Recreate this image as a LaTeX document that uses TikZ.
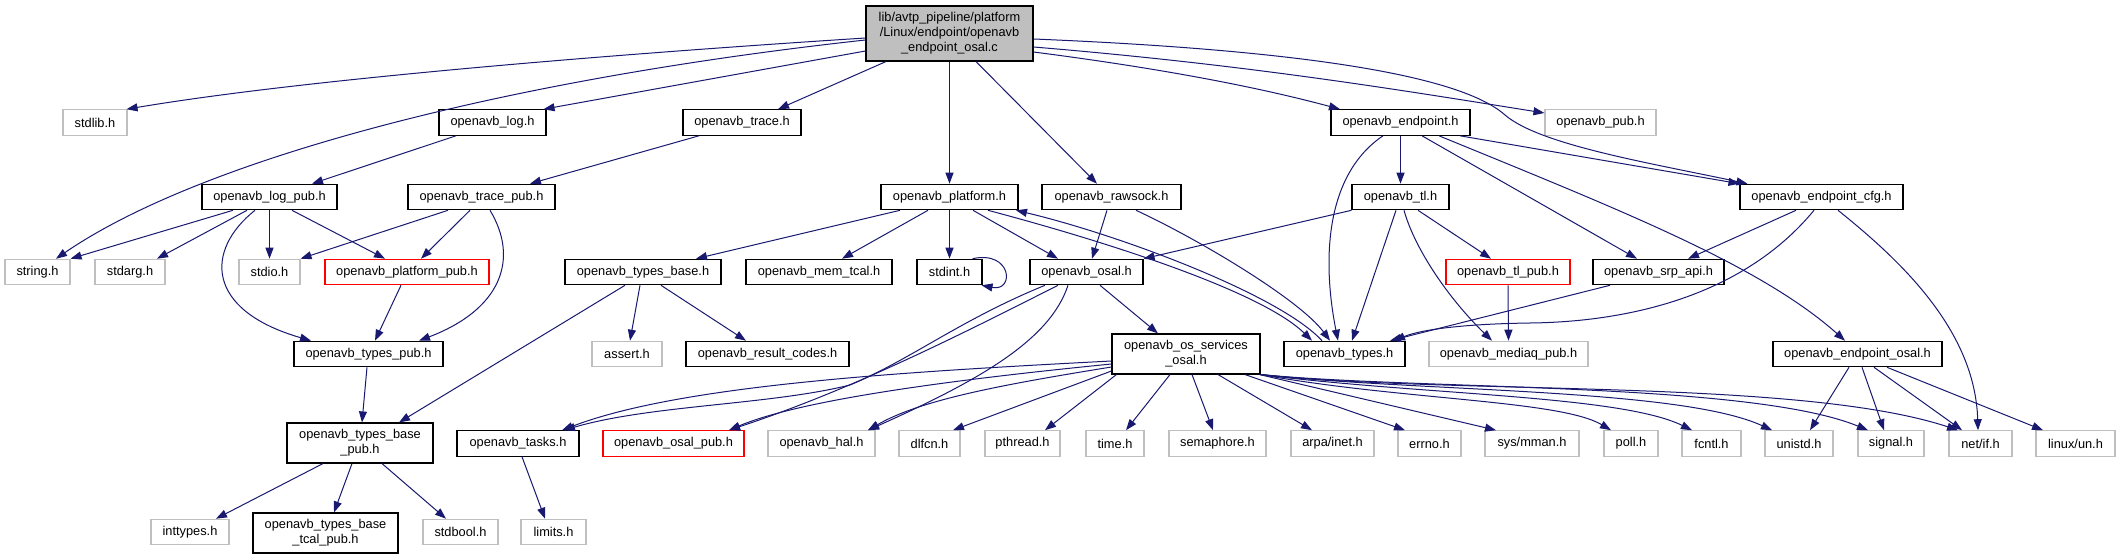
\documentclass[tikz,border=0pt]{standalone}
\usepackage{fontspec}
\setmainfont{Liberation Sans}
\usetikzlibrary{arrows.meta}
\definecolor{edgec}{HTML}{191970}
\definecolor{grayb}{HTML}{BFBFBF}
\begin{document}
\begin{tikzpicture}[x=1pt,y=-1pt,
  font=\fontsize{12.8}{15}\selectfont,
  box/.style={draw, line width=1.1pt, inner sep=0pt, minimum height=25.5pt, align=center, text=black, fill=white},
  blk/.style={box, draw=black},
  sys/.style={box, draw=grayb},
  trunc/.style={box, draw=red},
  e/.style={draw=edgec, line width=1pt, -{Triangle[length=11pt,width=8pt]}}]
\fill[white] (0,0) rectangle (2120,559);
\useasboundingbox (0,0) rectangle (2120,559);
% nodes
\node[blk, fill=grayb, minimum width=167pt, minimum height=55pt] (main) at (949.5,33.5) {lib/avtp\_pipeline/platform\\/Linux/endpoint/openavb\\\_endpoint\_osal.c};
\node[sys, minimum width=64pt] (stdlib) at (95,122.5) {stdlib.h};
\node[blk, minimum width=107pt] (log) at (492.5,122.5) {openavb\_log.h};
\node[blk, minimum width=118pt] (trace) at (742,122.5) {openavb\_trace.h};
\node[blk, minimum width=139pt] (endpoint) at (1400.5,122.5) {openavb\_endpoint.h};
\node[sys, minimum width=111pt] (pub) at (1600.5,122.5) {openavb\_pub.h};
\node[blk, minimum width=135pt] (logpub) at (269.5,197) {openavb\_log\_pub.h};
\node[blk, minimum width=147pt] (tracepub) at (481.5,197) {openavb\_trace\_pub.h};
\node[blk, minimum width=137pt] (platform) at (949.5,197) {openavb\_platform.h};
\node[blk, minimum width=139pt] (rawsock) at (1111.5,197) {openavb\_rawsock.h};
\node[blk, minimum width=97pt] (tl) at (1400.5,197) {openavb\_tl.h};
\node[blk, minimum width=163pt] (cfg) at (1821.5,197) {openavb\_endpoint\_cfg.h};
\node[sys, minimum width=65pt] (string) at (37.5,272) {string.h};
\node[sys, minimum width=70pt] (stdarg) at (130,272) {stdarg.h};
\node[sys, minimum width=61pt] (stdio) at (269.5,272) {stdio.h};
\node[trunc, minimum width=164pt] (platpub) at (407,272) {openavb\_platform\_pub.h};
\node[blk, minimum width=156pt] (typesbase) at (643,272) {openavb\_types\_base.h};
\node[blk, minimum width=146pt] (memtcal) at (819,272) {openavb\_mem\_tcal.h};
\node[blk, minimum width=65pt] (stdint) at (949.5,272) {stdint.h};
\node[blk, minimum width=113pt] (osal) at (1086.5,272) {openavb\_osal.h};
\node[trunc, minimum width=124pt] (tlpub) at (1508,272) {openavb\_tl\_pub.h};
\node[blk, minimum width=131pt] (srp) at (1658.5,272) {openavb\_srp\_api.h};
\node[blk, minimum width=149pt] (typespub) at (368.5,354) {openavb\_types\_pub.h};
\node[sys, minimum width=70pt] (assert) at (627,354) {assert.h};
\node[blk, minimum width=163pt] (result) at (767.5,354) {openavb\_result\_codes.h};
\node[blk, minimum width=148pt, minimum height=40pt] (ossvc) at (1186,354) {openavb\_os\_services\\\_osal.h};
\node[blk, minimum width=121pt] (types) at (1344.5,354) {openavb\_types.h};
\node[sys, minimum width=159pt] (mediaq) at (1508.5,354) {openavb\_mediaq\_pub.h};
\node[blk, minimum width=169pt] (eposal) at (1857.5,354) {openavb\_endpoint\_osal.h};
\node[blk, minimum width=146pt, minimum height=40pt] (tbpub) at (360,443) {openavb\_types\_base\\\_pub.h};
\node[blk, minimum width=122pt] (tasks) at (518,443.5) {openavb\_tasks.h};
\node[trunc, minimum width=141pt] (osalpub) at (673.5,443.5) {openavb\_osal\_pub.h};
\node[sys, minimum width=107pt] (hal) at (821.5,443.5) {openavb\_hal.h};
\node[sys, minimum width=61pt] (dlfcn) at (929.5,443.5) {dlfcn.h};
\node[sys, minimum width=75pt] (pthread) at (1022.5,443.5) {pthread.h};
\node[sys, minimum width=58pt] (time) at (1115,443.5) {time.h};
\node[sys, minimum width=97pt] (sema) at (1217.5,443.5) {semaphore.h};
\node[sys, minimum width=83pt] (arpa) at (1332.5,443.5) {arpa/inet.h};
\node[sys, minimum width=63pt] (errno) at (1429.5,443.5) {errno.h};
\node[sys, minimum width=94pt] (mman) at (1532,443.5) {sys/mman.h};
\node[sys, minimum width=54pt] (poll) at (1631,443.5) {poll.h};
\node[sys, minimum width=59pt] (fcntl) at (1711.5,443.5) {fcntl.h};
\node[sys, minimum width=68pt] (unistd) at (1799,443.5) {unistd.h};
\node[sys, minimum width=66pt] (signal) at (1891,443.5) {signal.h};
\node[sys, minimum width=63pt] (netif) at (1980.5,443.5) {net/if.h};
\node[sys, minimum width=79pt] (linuxun) at (2075.5,443.5) {linux/un.h};
\node[sys, minimum width=78pt] (inttypes) at (190,532) {inttypes.h};
\node[blk, minimum width=145pt, minimum height=40pt] (tcal) at (325.5,533) {openavb\_types\_base\\\_tcal\_pub.h};
\node[sys, minimum width=75pt] (stdbool) at (460.5,532) {stdbool.h};
\node[sys, minimum width=65pt] (limits) at (553.5,532) {limits.h};
% edges from main
\draw[e] ([yshift=-4.5pt]main.west) .. controls (600,55) and (300,80) .. ([xshift=-1pt]stdlib.north east);
\draw[e] ([yshift=-6.5pt]main.west) .. controls (500,80) and (200,160) .. ([xshift=18.5pt]string.north);
\draw[e] ([yshift=-17.5pt]main.west) -- ([xshift=-3pt]log.north east);
\draw[e] ([xshift=-63.5pt]main.south) -- ([xshift=36pt]trace.north);
\draw[e] (main.south) -- (platform.north);
\draw[e] ([xshift=26.5pt]main.south) -- ([xshift=-14.5pt]rawsock.north);
\draw[e] ([yshift=-18.5pt]main.east) .. controls (1150,67) and (1250,85) .. ([xshift=-60.5pt]endpoint.north);
\draw[e] ([yshift=-13.5pt]main.east) .. controls (1250,65) and (1400,90) .. ([yshift=9.5pt]pub.west);
\draw[e] ([yshift=-5.5pt]main.east) .. controls (1300,50) and (1460,75) .. (1505,115) .. controls (1540,145) and (1650,163) .. ([xshift=8pt]cfg.north west);
% log / trace
\draw[e] ([xshift=-36.5pt]log.south) -- ([xshift=42.5pt]logpub.north);
\draw[e] ([xshift=-43pt]trace.south) -- ([xshift=48.5pt]tracepub.north);
\draw[e] ([xshift=-36.5pt]logpub.south) -- (string.north east);
\draw[e] ([xshift=-22.5pt]logpub.south) -- ([xshift=27pt]stdarg.north);
\draw[e] (logpub.south) -- (stdio.north);
\draw[e] ([xshift=22.5pt]logpub.south) -- ([xshift=-22pt]platpub.north);
\draw[e] ([xshift=-14.5pt]logpub.south) .. controls (205,250) and (205,310) .. ([xshift=-57.5pt]typespub.north);
\draw[e] ([xshift=-33.5pt]tracepub.south) -- (stdio.north east);
\draw[e] ([xshift=-11.5pt]tracepub.south) -- ([xshift=14pt]platpub.north);
\draw[e] ([xshift=8.5pt]tracepub.south) .. controls (520,260) and (500,310) .. ([xshift=50.5pt]typespub.north);
\draw[e] ([xshift=-6pt]platpub.south) -- ([xshift=6.5pt]typespub.north);
\draw[e] ([xshift=-1.5pt]typespub.south) -- ([xshift=2pt]tbpub.north);
\draw[e] ([xshift=-18pt]typesbase.south) -- ([xshift=39pt]tbpub.north);
\draw[e] ([xshift=-3pt]typesbase.south) -- ([xshift=3pt]assert.north);
\draw[e] ([xshift=18pt]typesbase.south) -- ([xshift=-21.5pt]result.north);
\draw[e] ([xshift=-37pt]tbpub.south) -- ([xshift=26pt]inttypes.north);
\draw[e] ([xshift=-8pt]tbpub.south) -- ([xshift=8.5pt]tcal.north);
\draw[e] ([xshift=22pt]tbpub.south) -- ([xshift=-14.5pt]stdbool.north);
\draw[e] ([xshift=4pt]tasks.south) -- ([xshift=-8.5pt]limits.north);
% platform
\draw[e] ([xshift=-49.5pt]platform.south) -- ([xshift=53pt]typesbase.north);
\draw[e] ([xshift=-21.5pt]platform.south) -- ([xshift=23pt]memtcal.north);
\draw[e] (platform.south) -- (stdint.north);
\draw[e] ([xshift=23.5pt]platform.south) -- ([xshift=-28.5pt]osal.north);
\draw[e] ([xshift=38.5pt]platform.south) .. controls (1100,240) and (1260,290) .. ([xshift=-32.5pt]types.north);
\draw[e] ([xshift=-22.5pt]types.north) .. controls (1280,295) and (1120,235) .. ([xshift=66.5pt]platform.south);
\draw[e] ([xshift=-10pt]stdint.north east) .. controls (1012,250) and (1015,292) .. ([xshift=-1pt]stdint.south east);
% rawsock
\draw[e] ([xshift=-4.5pt]rawsock.south) -- ([xshift=5.5pt]osal.north);
\draw[e] ([xshift=24.5pt]rawsock.south) .. controls (1200,240) and (1300,300) .. ([xshift=-14.5pt]types.north);
% endpoint
\draw[e] (endpoint.south) -- (tl.north);
\draw[e] ([xshift=-17.5pt]endpoint.south) .. controls (1325,175) and (1322,260) .. ([xshift=-6.5pt]types.north);
\draw[e] ([xshift=21.5pt]endpoint.south) -- ([xshift=-21.5pt]srp.north);
\draw[e] ([xshift=38.5pt]endpoint.south) .. controls (1620,210) and (1760,265) .. ([xshift=-12.5pt]eposal.north);
\draw[e] ([xshift=59.5pt]endpoint.south) -- (cfg.north west);
% tl
\draw[e] (tl.south west) -- (osal.north east);
\draw[e] ([xshift=-4.5pt]tl.south) -- ([xshift=7.5pt]types.north);
\draw[e] ([xshift=3.5pt]tl.south) .. controls (1415,250) and (1450,300) .. ([xshift=-16.5pt]mediaq.north);
\draw[e] ([xshift=17.5pt]tl.south) -- ([xshift=-17pt]tlpub.north);
\draw[e] (tlpub.south) -- (mediaq.north);
% cfg
\draw[e] ([xshift=-25.5pt]cfg.south) -- ([xshift=29.5pt]srp.north);
\draw[e] ([xshift=-7.5pt]cfg.south) .. controls (1740,300) and (1620,322) .. (1530,323) .. controls (1460,324) and (1420,330) .. ([xshift=49.5pt]types.north);
\draw[e] ([xshift=16.5pt]cfg.south) .. controls (1900,260) and (1975,330) .. ([xshift=-2.5pt]netif.north);
\draw[e] ([xshift=-48.5pt]srp.south) -- ([xshift=45.5pt]types.north);
% osal
\draw[e] ([xshift=13.5pt]osal.south) -- ([xshift=-28pt]ossvc.north);
\draw[e] ([xshift=-41.5pt]osal.south) .. controls (960,320) and (910,360) .. (850,385) .. controls (770,405) and (650,405) .. ([xshift=46pt]tasks.north);
\draw[e] ([xshift=-28.5pt]osal.south) .. controls (950,340) and (850,390) .. ([xshift=55.5pt]osalpub.north);
\draw[e] ([xshift=-18.5pt]osal.south) .. controls (1050,340) and (980,380) .. ([xshift=46.5pt]hal.north);
% os services
\draw[e] ([yshift=-7pt]ossvc.west) .. controls (900,372) and (680,385) .. ([xshift=44pt]tasks.north);
\draw[e] ([yshift=-10pt]ossvc.west) .. controls (950,380) and (800,400) .. ([xshift=55.5pt]osalpub.north);
\draw[e] ([yshift=-13pt]ossvc.west) .. controls (1000,385) and (920,400) .. ([xshift=46.5pt]hal.north);
\draw[e] ([yshift=-17pt]ossvc.west) -- ([xshift=23.5pt]dlfcn.north);
\draw[e] ([xshift=5pt]ossvc.south west) -- ([xshift=22.5pt]pthread.north);
\draw[e] ([xshift=-16pt]ossvc.south) -- ([xshift=11pt]time.north);
\draw[e] ([xshift=6pt]ossvc.south) -- ([xshift=-4.5pt]sema.north);
\draw[e] ([xshift=32pt]ossvc.south) -- ([xshift=-20.5pt]arpa.north);
\draw[e] ([xshift=59pt]ossvc.south) -- ([xshift=-24.5pt]errno.north);
\draw[e] ([xshift=-1pt]ossvc.south east) -- ([xshift=-36pt]mman.north);
\draw[e] (ossvc.south east) .. controls (1400,400) and (1560,400) .. ([xshift=-20pt]poll.north);
\draw[e] (ossvc.south east) .. controls (1420,395) and (1620,395) .. ([xshift=-19.5pt]fcntl.north);
\draw[e] (ossvc.south east) .. controls (1420,392) and (1680,388) .. ([xshift=-27pt]unistd.north);
\draw[e] (ossvc.south east) .. controls (1420,390) and (1750,382) .. ([xshift=-23pt]signal.north);
\draw[e] (ossvc.south east) .. controls (1450,395) and (1800,378) .. ([xshift=-22.5pt]netif.north);
% endpoint osal
\draw[e] ([xshift=-8.5pt]eposal.south) -- ([xshift=11pt]unistd.north);
\draw[e] ([xshift=4.5pt]eposal.south) -- ([xshift=-7pt]signal.north);
\draw[e] ([xshift=16.5pt]eposal.south) -- ([xshift=-18.5pt]netif.north);
\draw[e] ([xshift=29.5pt]eposal.south) -- ([xshift=-32.5pt]linuxun.north);
\end{tikzpicture}
\end{document}
